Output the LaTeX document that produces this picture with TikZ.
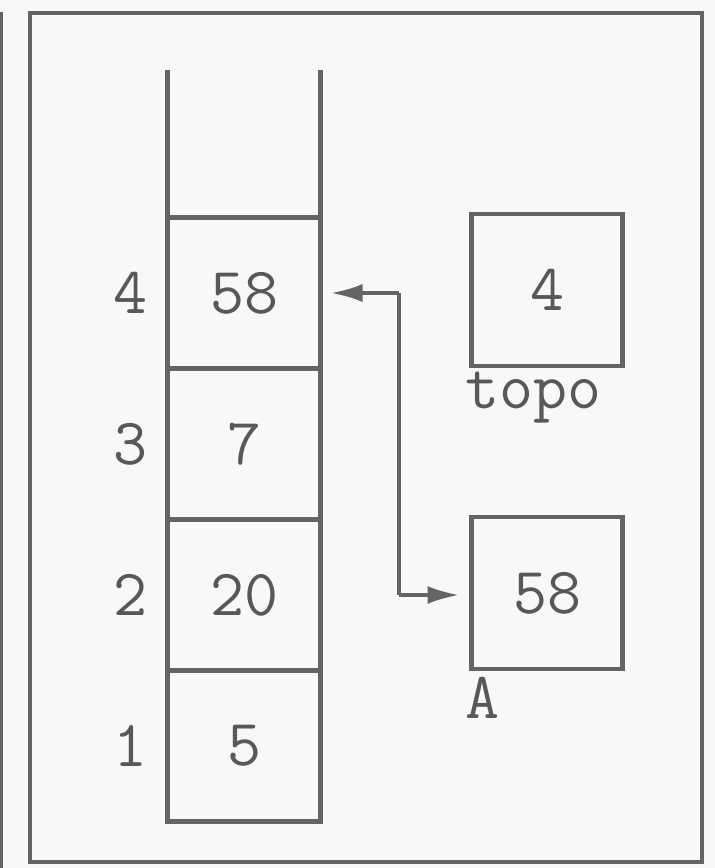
\documentclass[tikz,border=0pt]{standalone}
\usetikzlibrary{arrows.meta}
\definecolor{ink}{RGB}{100,100,100}
\definecolor{txt}{RGB}{88,88,88}
\definecolor{paper}{RGB}{248,248,248}
\begin{document}
\begin{tikzpicture}[x=1pt,y=-1pt,
  line/.style={draw=ink,line width=4.5pt},
  txtfont/.style={font=\ttfamily\fontsize{66}{66}\selectfont,text=txt},
  cell/.style={draw=ink,line width=4.5pt,outer sep=0pt,minimum width=153pt,minimum height=151pt,inner sep=0pt,txtfont},
  box/.style={draw=ink,line width=4.5pt,outer sep=0pt,minimum width=151pt,minimum height=152pt,inner sep=0pt,txtfont},
  idx/.style={txtfont,inner sep=0pt},
  lbl/.style={txtfont,inner sep=0pt,anchor=north west},
  arr/.style={draw=ink,line width=4pt,-{Latex[length=32pt,width=18pt]}}]
\fill[paper] (0,0) rectangle (715,868);
\useasboundingbox (0,0) rectangle (715,868);
% outer frame
\draw[line] (30,13) rectangle (702,862);
\draw[ink,line width=3.5pt] (1.5,12) -- (1.5,868);
% stack walls
\coordinate (wl) at (167.5,70);
\coordinate (wr) at (320.5,70);
\node[cell] (c4) at (244,293) {58};
\node[cell] (c3) at (244,444) {7};
\node[cell] (c2) at (244,595) {20};
\node[cell] (c1) at (244,746) {5};
\draw[line] (wl) -- (c4.north west);
\draw[line] (wr) -- (c4.north east);
% indices
\node[idx] (i4) at (130,293) {4};
\node[idx] (i3) at (130,444) {3};
\node[idx] (i2) at (130,595) {2};
\node[idx] (i1) at (130,746) {1};
% topo and A
\node[box] (topo) at (547,290) {4};
\node[lbl] (topolbl) at (465,372) {topo};
\node[box] (a) at (547,593) {58};
\node[lbl] (albl) at (465,677) {A};
% arrows
\coordinate (bend1) at (399,293);
\coordinate (bend2) at (399,595);
\draw[arr] (bend1) -- ([xshift=10pt]c4.east |- bend1);
\draw[draw=ink,line width=4pt] (bend1) -- (bend2);
\draw[arr] (bend2) -- ([xshift=-12pt]a.west |- bend2);
\end{tikzpicture}
\end{document}
